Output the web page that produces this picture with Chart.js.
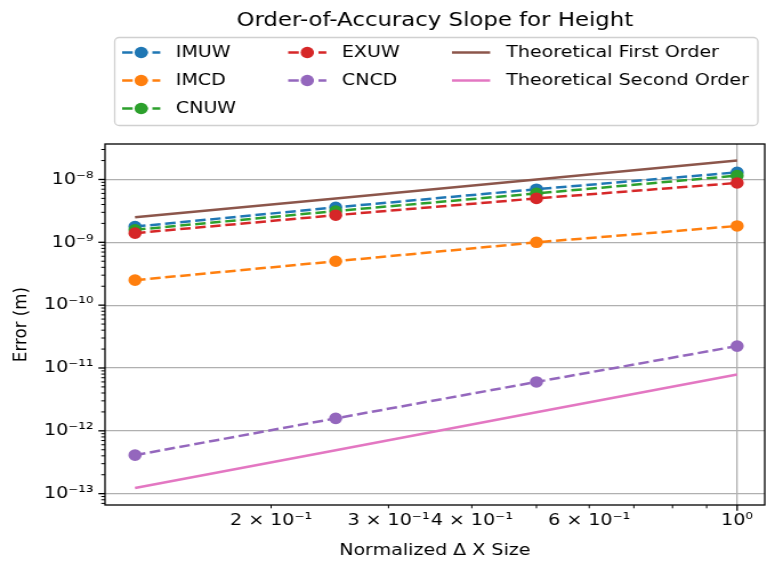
<!DOCTYPE html>
<html>
<head>
<meta charset="utf-8">
<script src="https://cdn.jsdelivr.net/npm/chart.js@4/dist/chart.umd.min.js"></script>
<style>
  html, body { margin: 0; padding: 0; background: #fff; }
</style>
</head>
<body>
<!-- drawn at 672 px wide, shown at 767 px -->
<canvas id="orderChart" width="672" height="562" style="width:767px;height:562px;display:block"></canvas>
<script>
// normalized grid spacing and height error per scheme
const dxSizes = [0.125, 0.25, 0.5, 1.0];
const errIMUW = [1.78e-9, 3.6e-9, 7.0e-9, 1.3e-8];
const errIMCD = [2.5e-10, 5.0e-10, 1.0e-9, 1.82e-9];
const errCNUW = [1.58e-9, 3.15e-9, 6.0e-9, 1.15e-8];
const errEXUW = [1.4e-9, 2.7e-9, 5.0e-9, 8.8e-9];
const errCNCD = [4.1e-13, 1.58e-12, 6.0e-12, 2.23e-11];
const refFirst = [2.5e-9, 5.0e-9, 1.0e-8, 2.0e-8];
const refSecond = [1.23e-13, 4.9e-13, 1.97e-12, 7.9e-12];

const yTickValues = [1e-13, 1e-12, 1e-11, 1e-10, 1e-9, 1e-8];
const yTickLabels = ['10⁻¹³', '10⁻¹²', '10⁻¹¹', '10⁻¹⁰', '10⁻⁹', '10⁻⁸'];
const xTickValues = [0.2, 0.3, 0.4, 0.6, 1.0];
const xTickLabels = ['2 × 10⁻¹', '3 × 10⁻¹', '4 × 10⁻¹', '6 × 10⁻¹', '10⁰'];

const FONT = 'DejaVu Sans';
const FS = 16.7;          // 10pt
const DASH = [9.25, 4];   // matplotlib '--' at lw 1.5

const toPoints = (ys) => dxSizes.map((x, i) => ({x: x, y: ys[i]}));

const series = (label, ys, color, dashed) => ({
    label: label,
    data: toPoints(ys),
    borderColor: color,
    backgroundColor: color,
    borderWidth: 2.5,
    borderDash: dashed ? DASH : [],
    pointRadius: dashed ? 5 : 0,
    pointBorderWidth: 1.6,
    pointHoverRadius: 5,
    tension: 0
});

const datasets = [
    series('IMUW', errIMUW, '#1f77b4', true),
    series('IMCD', errIMCD, '#ff7f0e', true),
    series('CNUW', errCNUW, '#2ca02c', true),
    series('EXUW', errEXUW, '#d62728', true),
    series('CNCD', errCNCD, '#9467bd', true),
    series('Theoretical First Order', refFirst, '#8c564b', false),
    series('Theoretical Second Order', refSecond, '#e377c2', false)
];
// later series sit on top
datasets.forEach((d, i) => { d.order = datasets.length - i; });

// ---------------------------------------------------------------- legend, 3 columns (3/2/2)
const columnLegend = {
    id: 'columnLegend',
    afterDraw(chart) {
        const ctx = chart.ctx;
        const colStart = [0, 3, 5];
        const handleX = [107, 252.5, 396];
        const textX = [154, 299.5, 443.5];
        const rowY = [52.5, 80.5, 108.5];
        const handleLen = 33.4;
        ctx.save();
        ctx.fillStyle = 'rgba(255,255,255,0.8)';
        ctx.strokeStyle = '#d0d0d0';
        ctx.lineWidth = 1.3;
        ctx.beginPath();
        ctx.roundRect(100.5, 37.5, 563.5, 88, 4);
        ctx.fill();
        ctx.stroke();
        ctx.font = `${FS}px "${FONT}"`;
        ctx.textBaseline = 'middle';
        chart.data.datasets.forEach((ds, i) => {
            let col = 0;
            while (col < 2 && i >= colStart[col + 1]) col++;
            const row = i - colStart[col];
            const x0 = handleX[col], y = rowY[row];
            ctx.strokeStyle = ds.borderColor;
            ctx.lineWidth = ds.borderWidth;
            ctx.setLineDash(ds.borderDash);
            ctx.beginPath();
            ctx.moveTo(x0, y);
            ctx.lineTo(x0 + handleLen, y);
            ctx.stroke();
            ctx.setLineDash([]);
            if (ds.pointRadius > 0) {
                ctx.fillStyle = ds.backgroundColor;
                ctx.beginPath();
                ctx.arc(x0 + handleLen / 2, y, ds.pointRadius + 0.8, 0, Math.PI * 2);
                ctx.fill();
            }
            ctx.fillStyle = '#000';
            ctx.fillText(ds.label, textX[col], y);
        });
        ctx.restore();
    }
};

// ---------------------------------------------------------------- spines + log ticks
const logFrame = {
    id: 'logFrame',
    afterDatasetsDraw(chart) {
        const ctx = chart.ctx;
        const {left, right, top, bottom} = chart.chartArea;
        const xs = chart.scales.x, ys = chart.scales.y;
        const tick = (x1, y1, x2, y2, w) => {
            ctx.lineWidth = w;
            ctx.beginPath();
            ctx.moveTo(x1, y1);
            ctx.lineTo(x2, y2);
            ctx.stroke();
        };
        ctx.save();
        ctx.strokeStyle = '#000';
        // minor ticks on y
        for (let e = -14; e <= -8; e++) {
            for (let k = 2; k <= 9; k++) {
                const v = k * Math.pow(10, e);
                if (v < ys.min || v > ys.max) continue;
                const py = ys.getPixelForValue(v);
                tick(left - 3.3, py, left, py, 1);
            }
        }
        yTickValues.forEach(v => {
            const py = ys.getPixelForValue(v);
            tick(left - 5.8, py, left, py, 1.3);
        });
        // minor ticks on x
        for (let k = 2; k <= 9; k++) {
            const px = xs.getPixelForValue(k / 10);
            tick(px, bottom, px, bottom + 3.3, 1);
        }
        const p1 = xs.getPixelForValue(1);
        tick(p1, bottom, p1, bottom + 5.8, 1.3);
        // full box
        ctx.lineWidth = 1.3;
        ctx.strokeRect(left, top, right - left, bottom - top);
        ctx.restore();
    }
};

const ctx = document.getElementById('orderChart').getContext('2d');
const myChart = new Chart(ctx, {
    type: 'line',
    data: {datasets: datasets},
    options: {
        responsive: false,
        animation: false,
        devicePixelRatio: 1,
        layout: {autoPadding: false, padding: {left: 0, right: 2, top: 0, bottom: 0}},
        plugins: {
            legend: {display: false},
            tooltip: {enabled: false},
            title: {
                display: true,
                text: 'Order-of-Accuracy Slope for Height',
                fullSize: false,
                color: '#000',
                font: {family: FONT, size: 20, weight: 'normal'},
                padding: {top: 9, bottom: 111}
            }
        },
        scales: {
            x: {
                type: 'logarithmic',
                min: 0.1127,
                max: 1.1,
                afterBuildTicks: (scale) => {
                    scale.ticks = xTickValues.map(v => ({value: v}));
                },
                afterFit: (scale) => {
                    scale.height = 57;
                    scale.paddingLeft = 0;
                    scale.paddingRight = 0;
                },
                ticks: {
                    autoSkip: false,
                    maxRotation: 0,
                    padding: 6,
                    color: '#000',
                    font: {family: FONT, size: FS},
                    callback: (value, index) => xTickLabels[index]
                },
                grid: {
                    drawTicks: false,
                    lineWidth: 1.3,
                    color: (c) => (c.tick && c.tick.value === 1) ? '#b0b0b0' : 'rgba(0,0,0,0)'
                },
                border: {display: false},
                title: {
                    display: true,
                    text: 'Normalized Δ X Size',
                    color: '#000',
                    font: {family: FONT, size: FS},
                    padding: {top: 0, bottom: 1}
                }
            },
            y: {
                type: 'logarithmic',
                min: 6.6e-14,
                max: 3.67e-8,
                afterBuildTicks: (scale) => {
                    scale.ticks = yTickValues.map(v => ({value: v}));
                },
                afterFit: (scale) => {
                    scale.width = 92;
                    scale.paddingTop = 0;
                    scale.paddingBottom = 0;
                },
                ticks: {
                    padding: 10,
                    color: '#000',
                    font: {family: FONT, size: FS},
                    callback: (value, index) => yTickLabels[index]
                },
                grid: {
                    drawTicks: false,
                    lineWidth: 1.3,
                    color: '#b0b0b0'
                },
                border: {display: false},
                title: {
                    display: true,
                    text: 'Error (m)',
                    color: '#000',
                    font: {family: FONT, size: FS},
                    padding: {top: 9, bottom: 0}
                }
            }
        }
    },
    plugins: [logFrame, columnLegend]
});
</script>
</body>
</html>
